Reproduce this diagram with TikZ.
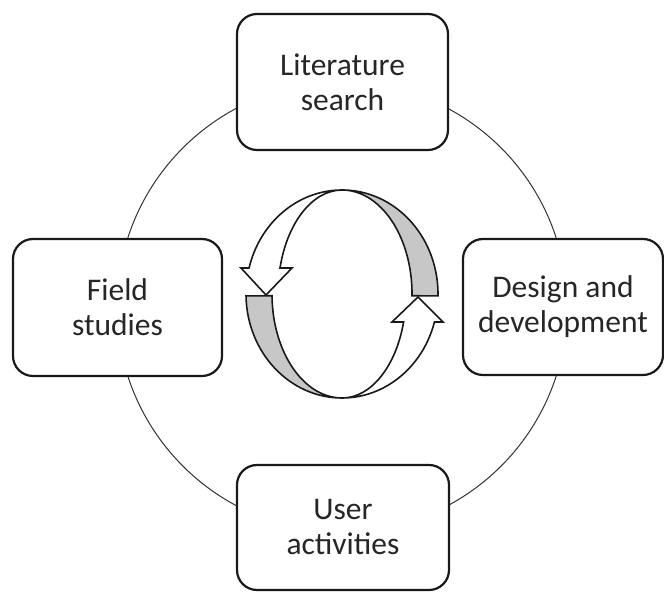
\documentclass[tikz,border=0pt]{standalone}
\usepackage{fontspec}
\setmainfont{Carlito}
\begin{document}
\begin{tikzpicture}[x=1pt,y=1pt,
  box/.style={draw=black!90, line width=2.2pt, rounded corners=20pt, fill=white,
    align=center, text=black!85, font=\fontsize{31.5}{35}\selectfont, inner sep=0pt},
  ring/.style={draw=black!80, line width=1pt},
  whiteband/.style={draw=black!90, line width=1.6pt, line join=miter, fill=white},
  grayband/.style={draw=black!90, line width=1.6pt, line join=miter, fill=black!22}]
\useasboundingbox (0,0) rectangle (664,594);
% ring behind the boxes
\draw[ring] (342,287) circle[radius=225];
% boxes
\node[box, minimum width=211pt, minimum height=136pt] (lit) at (342.5,512) {Literature\\search};
\node[box, minimum width=209pt, minimum height=137pt] (field) at (117.5,286.5) {Field\\studies};
\node[box, minimum width=200pt, minimum height=136pt] (design) at (563,287) {Design and\\development};
\node[box, minimum width=212pt, minimum height=125pt] (user) at (343,66.5) {User\\activities};
% central cycle
\coordinate (ctop) at (342,404);
\coordinate (cbot) at (342,196);
% left white arrow (pointing down)
\draw[whiteband] (ctop) arc[start angle=90, end angle=165.5, x radius=96, y radius=104]
  -- (241,326) -- (266,299) -- (292,326) -- (280,326)
  arc[start angle=165.5, end angle=90, x radius=64, y radius=104] -- cycle;
% top-right gray band
\draw[grayband] (ctop) arc[start angle=90, end angle=-1, x radius=96, y radius=104]
  -- (412,298.2) arc[start angle=-1, end angle=90, x radius=70, y radius=104] -- cycle;
% right white arrow (pointing up)
\draw[whiteband] (cbot) arc[start angle=-90, end angle=-15.6, x radius=96, y radius=104]
  -- (443,272) -- (418,297) -- (392,272) -- (403.6,272)
  arc[start angle=-15.6, end angle=-90, x radius=64, y radius=104] -- cycle;
% bottom-left gray band
\draw[grayband] (cbot) arc[start angle=270, end angle=181, x radius=96, y radius=104]
  -- (272,298.2) arc[start angle=181, end angle=270, x radius=70, y radius=104] -- cycle;
\end{tikzpicture}
\end{document}
